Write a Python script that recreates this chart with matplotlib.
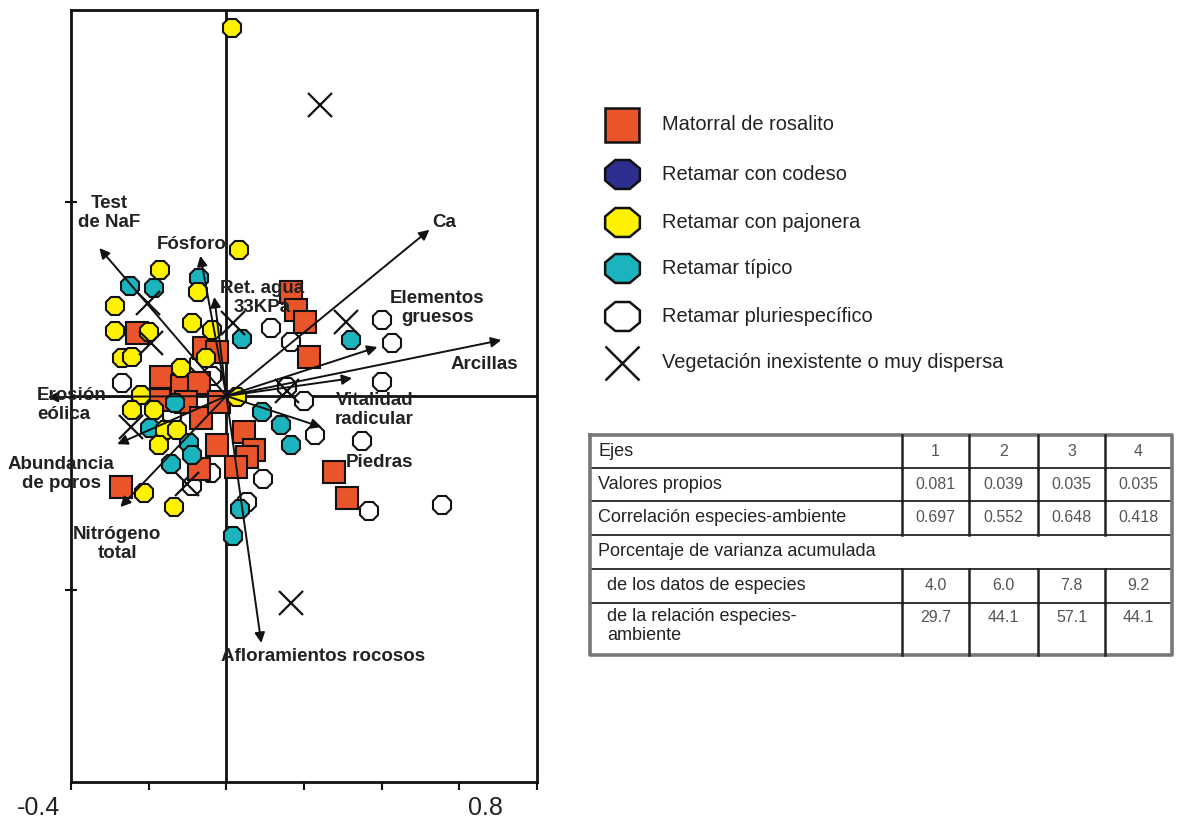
import matplotlib
matplotlib.use('Agg')
import matplotlib.pyplot as plt
from matplotlib.path import Path
import numpy as np

plt.rcParams['font.family'] = ['Liberation Sans', 'DejaVu Sans']

# ---------------- data ----------------
matorral_x = [-0.229, -0.057, -0.023, -0.167, -0.113, -0.070, -0.173, -0.103, -0.064, -0.018,
              -0.023, 0.046, 0.072, 0.054, 0.026, -0.070, -0.270, 0.167, 0.180, 0.203, 0.214, 0.278, 0.312]
matorral_y = [0.162, 0.124, 0.113, 0.049, 0.026, 0.033, -0.010, -0.015, -0.057, -0.015,
              -0.126, -0.093, -0.139, -0.157, -0.183, -0.188, -0.234, 0.268, 0.221, 0.191, 0.100, -0.196, -0.263]

pajonera_x = [0.015, 0.033, -0.170, -0.072, -0.286, -0.286, -0.198, -0.088, -0.036, -0.268, -0.242,
              -0.116, -0.052, -0.219, -0.242, -0.185, -0.157, -0.126, -0.173, 0.028, -0.211, -0.136]
pajonera_y = [0.948, 0.376, 0.324, 0.268, 0.232, 0.167, 0.165, 0.188, 0.170, 0.098, 0.100,
              0.072, 0.098, 0.003, -0.036, -0.036, -0.088, -0.088, -0.126, -0.003, -0.250, -0.286]

tipico_x = [-0.247, -0.185, -0.070, 0.041, 0.322, -0.196, -0.095, -0.088, -0.142, 0.093, 0.142, 0.167, 0.036, 0.018, -0.131]
tipico_y = [0.283, 0.278, 0.304, 0.147, 0.144, -0.082, -0.121, -0.152, -0.175, -0.041, -0.075, -0.126, -0.291, -0.361, -0.018]

pluri_x = [-0.268, -0.036, -0.139, 0.116, 0.167, 0.402, 0.427, 0.402, 0.157, 0.201, 0.229, 0.350,
           0.095, -0.088, 0.368, 0.556, 0.052, -0.039, -0.070]
pluri_y = [0.033, 0.052, -0.049, 0.175, 0.139, 0.196, 0.136, 0.036, 0.023, -0.013, -0.100, -0.116,
           -0.214, -0.232, -0.296, -0.281, -0.273, -0.198, 0.085]

inexist_x = [0.240, 0.309, 0.167, -0.203, -0.193, -0.245, 0.157, 0.018, -0.100]
inexist_y = [0.749, 0.191, -0.533, 0.240, 0.136, -0.080, 0.013, 0.188, -0.227]

env_names = ["Test de NaF", "Fósforo", "Ret. agua 33KPa", "Ca", "Elementos gruesos", "Arcillas",
             "Vitalidad radicular", "Piedras", "Afloramientos rocosos", "Erosión eólica",
             "Abundancia de poros", "Nitrógeno total"]
env_x = [-0.327, -0.067, -0.031, 0.523, 0.389, 0.708, 0.324, 0.245, 0.090, -0.460, -0.281, -0.273]
env_y = [0.381, 0.361, 0.255, 0.428, 0.126, 0.144, 0.046, -0.080, -0.636, -0.003, -0.124, -0.286]
env_labels = ["Test\nde NaF", "Fósforo", "Ret. agua\n33KPa", "Ca", "Elementos\ngruesos", "Arcillas",
              "Vitalidad\nradicular", "Piedras", "Afloramientos rocosos", "Erosión\neólica",
              "Abundancia\nde poros", "Nitrógeno\ntotal"]
label_x = [-0.301, -0.088, 0.093, 0.561, 0.543, 0.664, 0.381, 0.394, 0.250, -0.487, -0.425, -0.281]
label_y = [0.471, 0.389, 0.252, 0.448, 0.227, 0.080, -0.036, -0.170, -0.672, -0.023, -0.201, -0.381]
label_ha = ['center', 'center', 'center', 'center', 'center', 'center', 'center', 'center', 'center',
            'left', 'center', 'center']

legend_labels = ["Matorral de rosalito", "Retamar con codeso", "Retamar con pajonera",
                 "Retamar típico", "Retamar pluriespecífico", "Vegetación inexistente o muy dispersa"]

table_rows = ["Ejes", "Valores propios", "Correlación especies-ambiente",
              "Porcentaje de varianza acumulada", "de los datos de especies",
              "de la relación especies-\nambiente"]
table_vals = [["1", "2", "3", "4"],
              ["0.081", "0.039", "0.035", "0.035"],
              ["0.697", "0.552", "0.648", "0.418"],
              None,
              ["4.0", "6.0", "7.8", "9.2"],
              ["29.7", "44.1", "57.1", "44.1"]]

x_ticks = [-0.4, -0.2, 0.0, 0.2, 0.4, 0.6, 0.8]

# ---------------- styles ----------------
RED = '#E9542B'
BLUE = '#2E2E8E'
YELLOW = '#FFF200'
TEAL = '#1BB3BE'
WHITE = '#FFFFFF'
TXT = '#222222'

W, H = 1177, 819
fig = plt.figure(figsize=(W / 100, H / 100), dpi=100)

ax = fig.add_axes([71 / W, 1 - 782 / H, 466 / W, 772 / H])
ax.set_xlim(-0.4, 0.8)
ax.set_ylim(-0.994, 0.994)
for s in ax.spines.values():
    s.set_linewidth(2.0)
    s.set_color('#111111')
ax.set_xticks(x_ticks)
ax.set_xticklabels([])
ax.set_yticks([-0.5, 0.5])
ax.set_yticklabels([])
ax.tick_params(axis='x', direction='out', length=6, width=1.5, color='#111111')
ax.tick_params(axis='y', direction='inout', length=8, width=1.5, color='#111111')
ax.axhline(0, color='#111111', lw=2.0, zorder=1)
ax.axvline(0, color='#111111', lw=2.0, zorder=1)

ms_oct = 14
ms_sq = 15.5
mew = 1.5
ax.plot(pluri_x, pluri_y, ls='none', marker='8', ms=ms_oct, mfc=WHITE, mec='#111111', mew=mew, zorder=3)
ax.plot(matorral_x, matorral_y, ls='none', marker='s', ms=ms_sq, mfc=RED, mec='#111111', mew=mew, zorder=3)
ax.plot(tipico_x, tipico_y, ls='none', marker='8', ms=ms_oct, mfc=TEAL, mec='#111111', mew=mew, zorder=3)
ax.plot(pajonera_x, pajonera_y, ls='none', marker='8', ms=ms_oct, mfc=YELLOW, mec='#111111', mew=mew, zorder=3)
ax.plot(inexist_x, inexist_y, ls='none', marker='x', ms=17, mec='#111111', mew=1.6, zorder=3)

for ex, ey in zip(env_x, env_y):
    ax.annotate('', xy=(ex, ey), xytext=(0, 0), annotation_clip=False,
                arrowprops=dict(arrowstyle='-|>', color='#111111', lw=1.4,
                                mutation_scale=15, shrinkA=0, shrinkB=0), zorder=4)

for lab, lx, ly, ha in zip(env_labels, label_x, label_y, label_ha):
    ax.text(lx, ly, lab, ha=ha, va='center', fontsize=13.5, fontweight='bold', color=TXT,
            linespacing=1.2, zorder=5, clip_on=False)

# ---------------- overlay (legend, table, tick labels) ----------------
ov = fig.add_axes([0, 0, 1, 1], zorder=10)
ov.set_xlim(0, W)
ov.set_ylim(H, 0)
ov.axis('off')
ov.patch.set_alpha(0)

ov.text(38, 808, "-0.4", ha='center', va='center', fontsize=18, color=TXT)
ov.text(485, 808, "0.8", ha='center', va='center', fontsize=18, color=TXT)

ang = np.deg2rad(22.5 + 45 * np.arange(8))
wide_oct = Path(np.c_[1.2 * np.cos(ang), np.sin(ang)].tolist() + [[1.2 * np.cos(ang[0]), np.sin(ang[0])]],
                closed=True)
leg_y = [125, 174, 222, 268, 316, 363]
leg_mx, leg_tx = 622, 662
leg_styles = [dict(marker='s', mfc=RED, ms=24), dict(marker=wide_oct, mfc=BLUE, ms=25),
              dict(marker=wide_oct, mfc=YELLOW, ms=25), dict(marker=wide_oct, mfc=TEAL, ms=25),
              dict(marker=wide_oct, mfc=WHITE, ms=25), dict(marker='x', ms=24)]
for ly, lab, st in zip(leg_y, legend_labels, leg_styles):
    if st['marker'] == 'x':
        ov.plot([leg_mx], [ly], ls='none', marker='x', ms=st['ms'], mec='#111111', mew=1.8)
    else:
        ov.plot([leg_mx], [ly], ls='none', marker=st['marker'], ms=st['ms'], mfc=st['mfc'],
                mec='#111111', mew=1.8)
    ov.text(leg_tx, ly, lab, ha='left', va='center', fontsize=14.4, color=TXT)

# table
t_left, t_right = 590, 1172
col_x = [902, 969, 1038, 1105]
row_y = [435, 468, 501, 535, 569, 603, 655]
col_centers = [(col_x[i] + (col_x[i + 1] if i < 3 else t_right)) / 2 for i in range(4)]
for yy in row_y[1:-1]:
    ov.plot([t_left, t_right], [yy, yy], color='#333333', lw=1.4)
ov.plot([t_left, t_right, t_right, t_left, t_left], [row_y[0], row_y[0], row_y[-1], row_y[-1], row_y[0]],
        color='#777777', lw=2.6)
for cx in col_x:
    for r in range(6):
        if table_vals[r] is None:
            continue
        ov.plot([cx, cx], [row_y[r], row_y[r + 1]], color='#222222', lw=1.8)
for r, lab in enumerate(table_rows):
    indent = 607 if r >= 4 else 598
    if r < 5:
        ov.text(indent, (row_y[r] + row_y[r + 1]) / 2, lab, ha='left', va='center', fontsize=13, color=TXT)
    else:
        ov.text(indent, row_y[r] + 5, lab, ha='left', va='top', fontsize=13, color=TXT, linespacing=1.15)
    vals = table_vals[r]
    if vals is not None:
        vy = (row_y[r] + row_y[r + 1]) / 2 if r < 5 else row_y[r] + 15
        for cx, v in zip(col_centers, vals):
            ov.text(cx, vy, v, ha='center', va='center', fontsize=11.5, color='#555555')

fig.savefig('out.png', dpi=100, facecolor='white')
